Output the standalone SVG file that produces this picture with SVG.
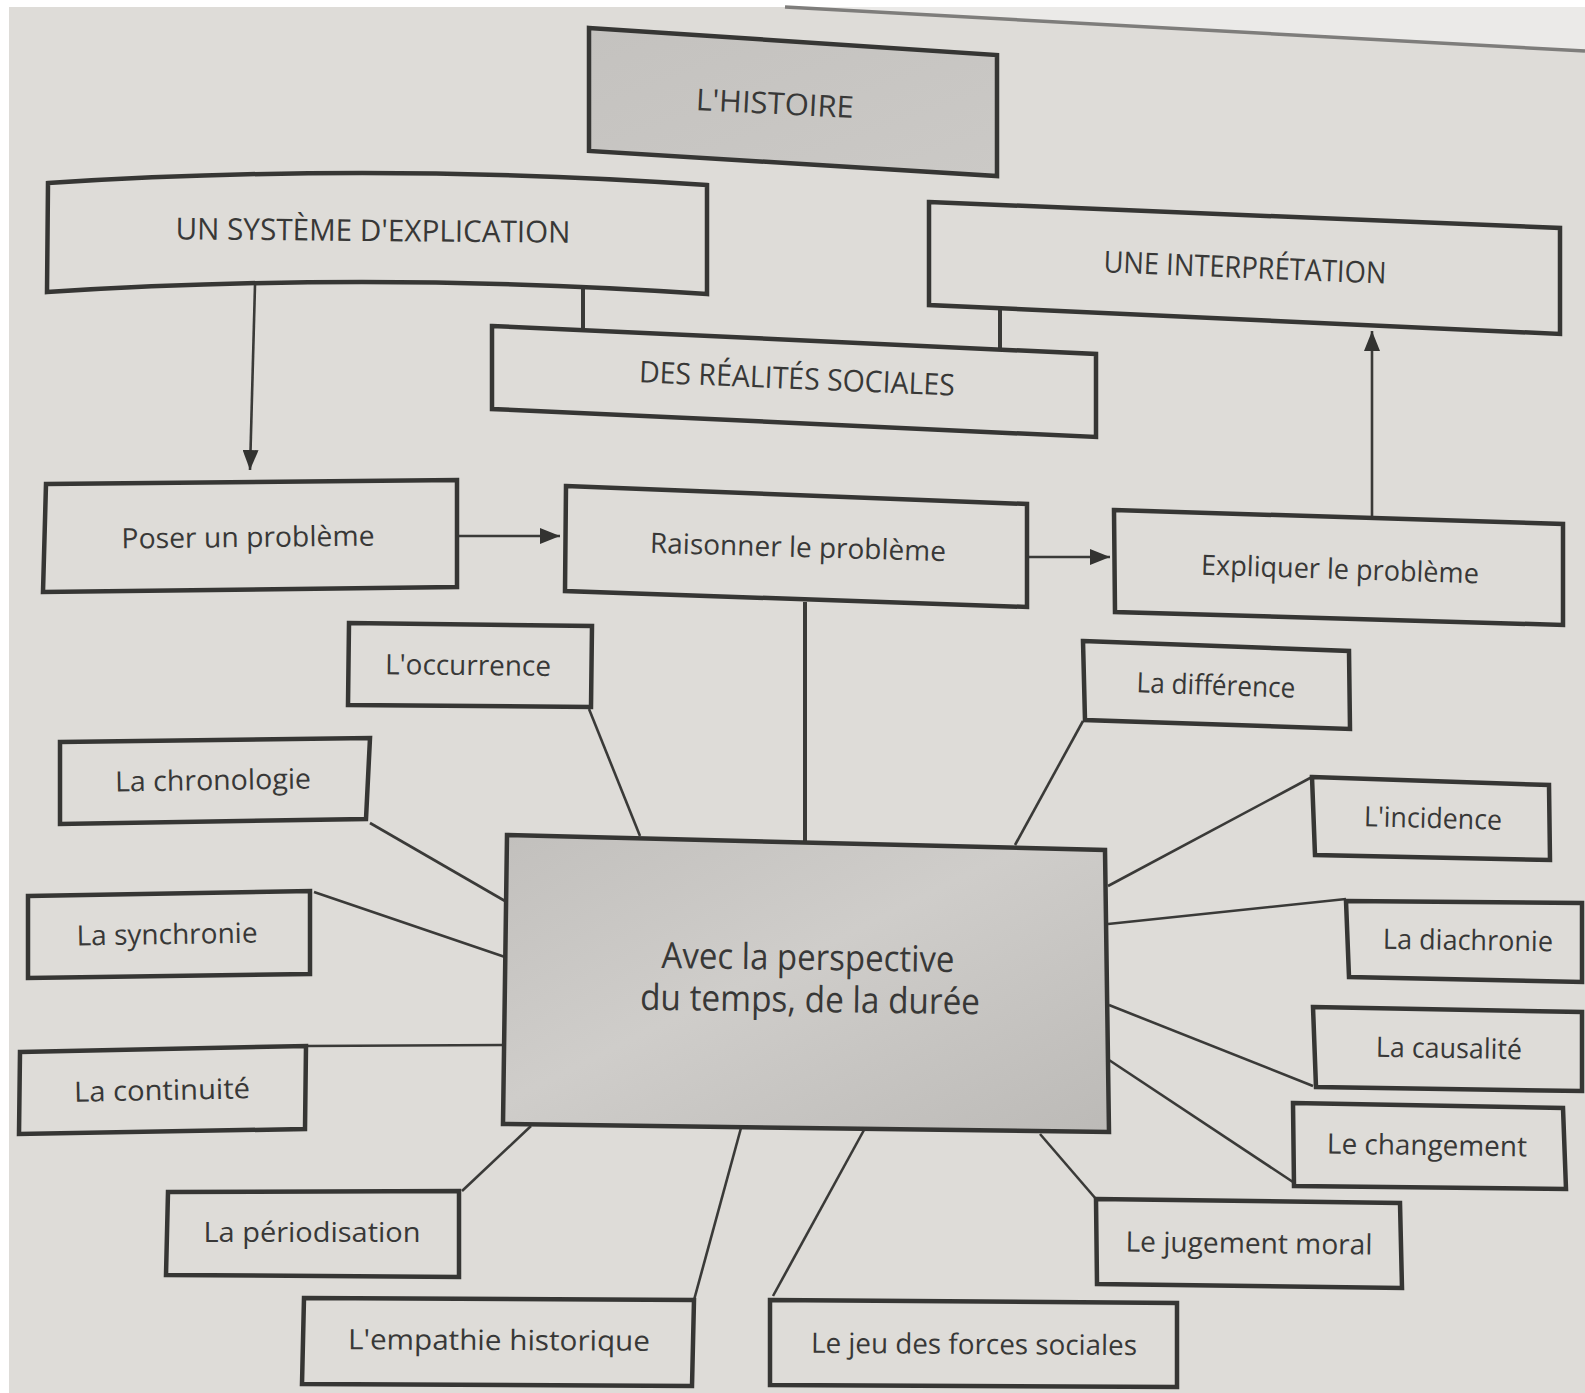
<svg xmlns="http://www.w3.org/2000/svg" width="1585" height="1393" viewBox="0 0 1585 1393">
<style>
.box{fill:none;stroke:#363634;stroke-width:4.5;stroke-linejoin:miter}
.fillbox{stroke:#363634;stroke-width:4.5}
.t{font-family:"Open Sans","Liberation Sans",sans-serif;font-size:28px;fill:#383837;text-anchor:middle}
.cap{font-size:30px}
.big{font-size:36px}
.link{stroke:#3a3a38;stroke-width:2.6;fill:none}
.thick{stroke-width:4}
</style>
<defs>
<marker id="ah" markerUnits="userSpaceOnUse" markerWidth="22" markerHeight="16" refX="20" refY="8" orient="auto">
<path d="M0,0 L20,8 L0,16 Z" fill="#333331"/>
</marker>
<linearGradient id="gC" x1="0" y1="0" x2="1" y2="1">
<stop offset="0" stop-color="#c2c0bd"/>
<stop offset="0.45" stop-color="#cfcdca"/>
<stop offset="1" stop-color="#bcbab7"/>
</linearGradient>
<linearGradient id="gH" x1="0" y1="0" x2="1" y2="1">
<stop offset="0" stop-color="#c4c2bf"/>
<stop offset="1" stop-color="#cbc9c6"/>
</linearGradient>
</defs>
<rect x="0" y="0" width="1585" height="1393" fill="#ffffff"/>
<polygon points="9,7 785,7 1585,51 1585,1393 9,1393" fill="#dedcd8"/>
<polygon points="785,7 1585,7 1585,51" fill="#ebeae8"/>
<line x1="785" y1="7" x2="1585" y2="51" stroke="#7e7d7b" stroke-width="3.5"/>

<g id="connectors">
<line class="link" x1="255" y1="285" x2="250" y2="470" marker-end="url(#ah)"/>
<line class="link" x1="457" y1="536" x2="560" y2="536" marker-end="url(#ah)"/>
<line class="link" x1="1027" y1="557" x2="1110" y2="557" marker-end="url(#ah)"/>
<line class="link" x1="1372" y1="516" x2="1372" y2="331" marker-end="url(#ah)"/>
<line class="link thick" x1="583" y1="286" x2="583" y2="328"/>
<line class="link thick" x1="1000" y1="306" x2="1000" y2="350"/>
<line class="link thick" x1="805" y1="602" x2="805" y2="843"/>
<line class="link" x1="589" y1="709" x2="640" y2="836"/>
<line class="link" x1="370" y1="823" x2="505" y2="901"/>
<line class="link" x1="314" y1="892" x2="505" y2="957"/>
<line class="link" x1="306" y1="1046" x2="504" y2="1045"/>
<line class="link" x1="462" y1="1191" x2="531" y2="1126"/>
<line class="link" x1="694" y1="1300" x2="741" y2="1128"/>
<line class="link" x1="773" y1="1296" x2="864" y2="1130"/>
<line class="link" x1="1096" y1="1199" x2="1040" y2="1134"/>
<line class="link" x1="1293" y1="1182" x2="1109" y2="1060"/>
<line class="link" x1="1313" y1="1086" x2="1109" y2="1005"/>
<line class="link" x1="1346" y1="899" x2="1108" y2="924"/>
<line class="link" x1="1312" y1="777" x2="1108" y2="886"/>
<line class="link" x1="1083" y1="721" x2="1015" y2="845"/>
</g>

<g id="histoire">
<polygon class="fillbox" fill="url(#gH)" points="589,28 997,55 997,176 589,151"/>
<text class="t cap" x="775" y="114" textLength="158" lengthAdjust="spacingAndGlyphs" transform="rotate(2.9 775 103)">L'HISTOIRE</text>
</g>

<g id="systeme">
<path class="box" d="M48,183 Q377,162 707,185 L707,294 Q377,271 47,292 Z"/>
<text class="t cap" x="373" y="241" textLength="395" lengthAdjust="spacingAndGlyphs" transform="rotate(0.5 373 230)">UN SYSTÈME D'EXPLICATION</text>
</g>

<g id="realites">
<polygon class="box" points="492,326 1096,354 1096,437 492,409"/>
<text class="t cap" x="797" y="389" textLength="316" lengthAdjust="spacingAndGlyphs" transform="rotate(2.4 797 378)">DES RÉALITÉS SOCIALES</text>
</g>

<g id="interpretation">
<polygon class="box" points="929,202 1560,228 1560,334 929,305"/>
<text class="t cap" x="1245" y="278" textLength="283" lengthAdjust="spacingAndGlyphs" transform="rotate(2.3 1245 267)">UNE INTERPRÉTATION</text>
</g>

<g id="poser">
<polygon class="box" points="46,484 457,480 457,587 43,592"/>
<text class="t" x="248" y="547" textLength="253" lengthAdjust="spacingAndGlyphs" transform="rotate(-0.6 248 537)">Poser un problème</text>
</g>

<g id="raisonner">
<polygon class="box" points="566,486 1027,504 1027,607 565,591"/>
<text class="t" x="798" y="557" textLength="296" lengthAdjust="spacingAndGlyphs" transform="rotate(1.6 798 547)">Raisonner le problème</text>
</g>

<g id="expliquer">
<polygon class="box" points="1114,510 1563,524 1563,625 1115,612"/>
<text class="t" x="1340" y="579" textLength="278" lengthAdjust="spacingAndGlyphs" transform="rotate(1.8 1340 569)">Expliquer le problème</text>
</g>

<g id="centre">
<polygon class="fillbox" fill="url(#gC)" points="507,835 1105,850 1109,1132 503,1124"/>
<text class="t big" x="808" y="970" textLength="293" lengthAdjust="spacingAndGlyphs" transform="rotate(0.8 808 960)">Avec la perspective</text>
<text class="t big" x="810" y="1012" textLength="340" lengthAdjust="spacingAndGlyphs" transform="rotate(0.8 810 1002)">du temps, de la durée</text>
</g>

<g id="occurrence">
<polygon class="box" points="349,623 592,626 591,707 348,705"/>
<text class="t" x="468" y="675" textLength="166" lengthAdjust="spacingAndGlyphs" transform="rotate(0.6 468 665)">L'occurrence</text>
</g>

<g id="chronologie">
<polygon class="box" points="60,742 370,738 366,819 60,824"/>
<text class="t" x="213" y="790" textLength="196" lengthAdjust="spacingAndGlyphs" transform="rotate(-0.9 213 780)">La chronologie</text>
</g>

<g id="synchronie">
<polygon class="box" points="28,896 310,891 310,974 28,978"/>
<text class="t" x="167" y="944" textLength="181" lengthAdjust="spacingAndGlyphs" transform="rotate(-0.9 167 934)">La synchronie</text>
</g>

<g id="continuite">
<polygon class="box" points="20,1052 306,1046 305,1129 19,1134"/>
<text class="t" x="162" y="1100" textLength="176" lengthAdjust="spacingAndGlyphs" transform="rotate(-1.1 162 1090)">La continuité</text>
</g>

<g id="periodisation">
<polygon class="box" points="168,1192 459,1191 459,1277 166,1275"/>
<text class="t" x="312" y="1242" textLength="217" lengthAdjust="spacingAndGlyphs">La périodisation</text>
</g>

<g id="empathie">
<polygon class="box" points="304,1298 694,1300 692,1386 302,1384"/>
<text class="t" x="499" y="1350" textLength="302" lengthAdjust="spacingAndGlyphs" transform="rotate(0.3 499 1340)">L'empathie historique</text>
</g>

<g id="jeu">
<polygon class="box" points="770,1300 1177,1303 1177,1387 770,1385"/>
<text class="t" x="974" y="1354" textLength="326" lengthAdjust="spacingAndGlyphs" transform="rotate(0.4 974 1344)">Le jeu des forces sociales</text>
</g>

<g id="jugement">
<polygon class="box" points="1096,1199 1400,1203 1402,1288 1097,1284"/>
<text class="t" x="1249" y="1253" textLength="247" lengthAdjust="spacingAndGlyphs" transform="rotate(0.75 1249 1243)">Le jugement moral</text>
</g>

<g id="changement">
<polygon class="box" points="1293,1103 1563,1108 1566,1189 1294,1186"/>
<text class="t" x="1427" y="1155" textLength="200" lengthAdjust="spacingAndGlyphs" transform="rotate(0.8 1427 1145)">Le changement</text>
</g>

<g id="causalite">
<polygon class="box" points="1313,1007 1582,1012 1582,1091 1316,1087"/>
<text class="t" x="1449" y="1058" textLength="146" lengthAdjust="spacingAndGlyphs" transform="rotate(0.9 1449 1048)">La causalité</text>
</g>

<g id="diachronie">
<polygon class="box" points="1346,901 1582,903 1582,982 1349,977"/>
<text class="t" x="1468" y="950" textLength="170" lengthAdjust="spacingAndGlyphs" transform="rotate(0.8 1468 940)">La diachronie</text>
</g>

<g id="incidence">
<polygon class="box" points="1312,777 1549,785 1550,860 1315,855"/>
<text class="t" x="1433" y="828" textLength="138" lengthAdjust="spacingAndGlyphs" transform="rotate(1.5 1433 818)">L'incidence</text>
</g>

<g id="difference">
<polygon class="box" points="1083,641 1349,651 1350,729 1085,720"/>
<text class="t" x="1216" y="695" textLength="159" lengthAdjust="spacingAndGlyphs" transform="rotate(2 1216 685)">La différence</text>
</g>
</svg>
